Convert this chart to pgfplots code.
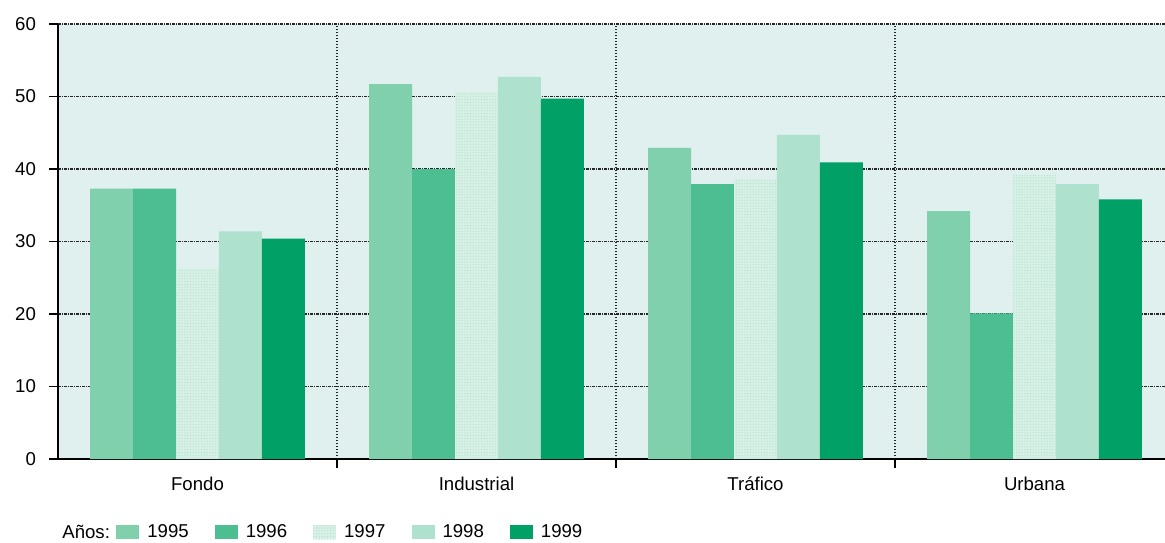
\documentclass[border=0pt]{standalone}
\usepackage{fontspec}
\setmainfont{Liberation Sans}
\usepackage{pgfplots}
\pgfplotsset{compat=1.18}
\usepackage{pgfplotstable}
\usetikzlibrary{patterns.meta}

\definecolor{bgcol}{HTML}{DFF0EF}
\definecolor{cA}{HTML}{80D0AE}
\definecolor{cB}{HTML}{4DBE91}
\definecolor{cC}{HTML}{D6F0E6}
\definecolor{cCdot}{HTML}{B3E0CE}
\definecolor{cD}{HTML}{AEE2CE}
\definecolor{cE}{HTML}{00A066}

% x: 0 Fondo, 1 Industrial, 2 Trafico, 3 Urbana
\pgfplotstableread{
x  y95  y96  y97  y98  y99
0  37.3 37.3 26.3 31.4 30.4
1  51.7 40.0 50.6 52.7 49.7
2  42.9 37.9 38.6 44.7 40.9
3  34.2 20.1 39.2 37.9 35.8
}\datos

\begin{document}
\begin{tikzpicture}
\path[use as bounding box] (-29pt,-41.5pt) rectangle (553.5pt,229.5pt);
\begin{axis}[
    at={(0,0)}, anchor=south west,
    scale only axis,
    width=558pt, height=217.5pt,
    font=\fontsize{9.3}{11}\selectfont,
    /pgf/number format/assume math mode=true,
    axis background/.style={fill=bgcol},
    axis x line=bottom, axis y line=left,
    axis line style={-, line width=0.9pt, black},
    xmin=-0.5, xmax=3.5,
    ymin=0, ymax=60,
    ytick={0,10,...,60},
    yticklabel style={xshift=-3pt},
    ymajorgrids,
    y grid style={black!85, line width=0.7pt, dash pattern=on 1.3pt off 0.6pt on 0.5pt off 0.6pt},
    tick align=outside,
    major tick length=4.5pt,
    tick style={black, line width=0.7pt},
    xtick={0.5,1.5,2.5},
    xticklabels={},
    xmajorgrids,
    x grid style={black!85, line width=0.8pt, dash pattern=on 0.6pt off 0.9pt},
    extra x ticks={0,1,2,3},
    extra x tick labels={Fondo,Industrial,Tráfico,Urbana},
    extra x tick style={grid=none, major tick length=0pt,
        xticklabel style={yshift=-5.5pt}},
    ybar=0pt,
    bar width=0.154,
    legend columns=-1,
    legend style={at={(0,0)}, anchor=west, xshift=29pt, yshift=-36.5pt,
        draw=none, fill=none, inner sep=0pt,
        font=\fontsize{9.3}{11}\selectfont,
        /tikz/every odd column/.append style={column sep=2pt},
        /tikz/every even column/.append style={column sep=11pt}},
    legend image code/.code={\fill[#1] (0pt,-3.5pt) rectangle (11.5pt,3.5pt);},
]
\addplot[draw=none, fill=cA] table[x=x, y=y95] {\datos};
\addlegendentry{1995}
\addplot[draw=none, fill=cB] table[x=x, y=y96] {\datos};
\addlegendentry{1996}
\addplot[draw=none, fill=cC, postaction={pattern={Dots[distance=1.4pt, radius=0.3pt]}, pattern color=cCdot}] table[x=x, y=y97] {\datos};
\addlegendentry{1997}
\addplot[draw=none, fill=cD] table[x=x, y=y98] {\datos};
\addlegendentry{1998}
\addplot[draw=none, fill=cE] table[x=x, y=y99] {\datos};
\addlegendentry{1999}
\end{axis}
\node[anchor=west, inner sep=0pt, font=\fontsize{9.3}{11}\selectfont] at (2pt,-36.5pt) {Años:};
\end{tikzpicture}
\end{document}
